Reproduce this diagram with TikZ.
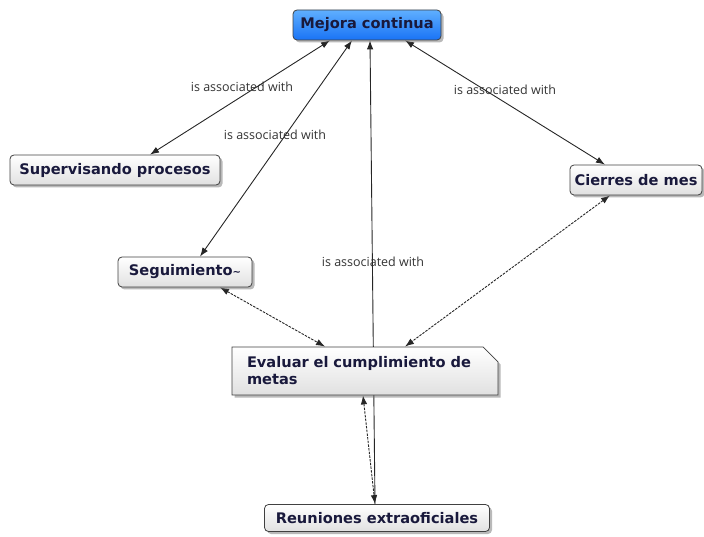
\documentclass[tikz,border=0pt]{standalone}
\usepackage{fontspec}
\setsansfont{DejaVu Sans}
\newfontfamily\linkfont{Open Sans}
\usepackage{tikz}
\usetikzlibrary{arrows.meta,shapes.misc,shadows,backgrounds}
\definecolor{mejoratop}{RGB}{95,175,255}
\definecolor{mejorabot}{RGB}{25,115,245}
\definecolor{conceptink}{RGB}{25,25,60}
\tikzset{
  concept/.style={draw=black!75, line width=0.8pt, rounded corners=4pt, top color=white, bottom color=black!12,
    drop shadow={shadow xshift=2.5pt, shadow yshift=-2.5pt, fill=black!55},
    font=\sffamily\bfseries\fontsize{14.6}{17}\selectfont, text=conceptink, inner sep=3pt},
  linklabel/.style={font=\linkfont\fontsize{12.5}{14}\selectfont, text=black!80},
  rel/.style={{Latex[length=9pt,width=6.5pt]}-{Latex[length=9pt,width=6.5pt]}, black!85, line width=0.9pt},
  relto/.style={-{Latex[length=9pt,width=6.5pt]}, black!85, line width=0.9pt},
  reldash/.style={rel, dash pattern=on 2.5pt off 1.2pt},
}
\begin{document}
\begin{tikzpicture}[x=1pt,y=-1pt]
\useasboundingbox (0,0) rectangle (704,537);
% concepts
\node[concept, top color=mejoratop, bottom color=mejorabot, minimum width=148, minimum height=30] (mejora) at (367,25) {Mejora continua};
\node[concept, minimum width=210, minimum height=30] (superv) at (115,170) {Supervisando procesos};
\node[concept, minimum width=132, minimum height=30] (cierres) at (636,180) {Cierres de mes};
\node[concept, minimum width=134, minimum height=30] (seguim) at (185,272) {Seguimiento{\fontsize{10}{10}\selectfont\char"223C}};
\node[concept, chamfered rectangle, chamfered rectangle corners=north east, chamfered rectangle xsep=12pt,
  rounded corners=0pt, minimum width=260, minimum height=48, text width=236, align=left] (evaluar) at (365,371)
  {Evaluar el cumplimiento de\\metas};
\node[concept, minimum width=225, minimum height=27] (reun) at (377,518) {Reuniones extraoficiales};
% links
\begin{scope}[on background layer]
\draw[rel] ([xshift=35]superv.north) -- ([xshift=-37]mejora.south);
\draw[rel] ([xshift=15]seguim.north) -- ([xshift=-15]mejora.south);
\draw[relto] ([xshift=-2]reun.north) -- ([xshift=3]mejora.south);
\draw[rel] ([xshift=-31]cierres.north) -- ([xshift=38]mejora.south);
\draw[reldash] ([xshift=35]seguim.south) -- ([xshift=-40]evaluar.north);
\draw[reldash] ([xshift=-26]cierres.south) -- ([xshift=40]evaluar.north);
\draw[reldash] ([xshift=-2]evaluar.south) -- ([xshift=-2]reun.north);
\end{scope}
\node[linklabel] (l1) at (242,87) {is associated with};
\node[linklabel] (l2) at (275,135) {is associated with};
\node[linklabel] (l3) at (373,262) {is associated with};
\node[linklabel] (l4) at (505,90) {is associated with};
\end{tikzpicture}
\end{document}
